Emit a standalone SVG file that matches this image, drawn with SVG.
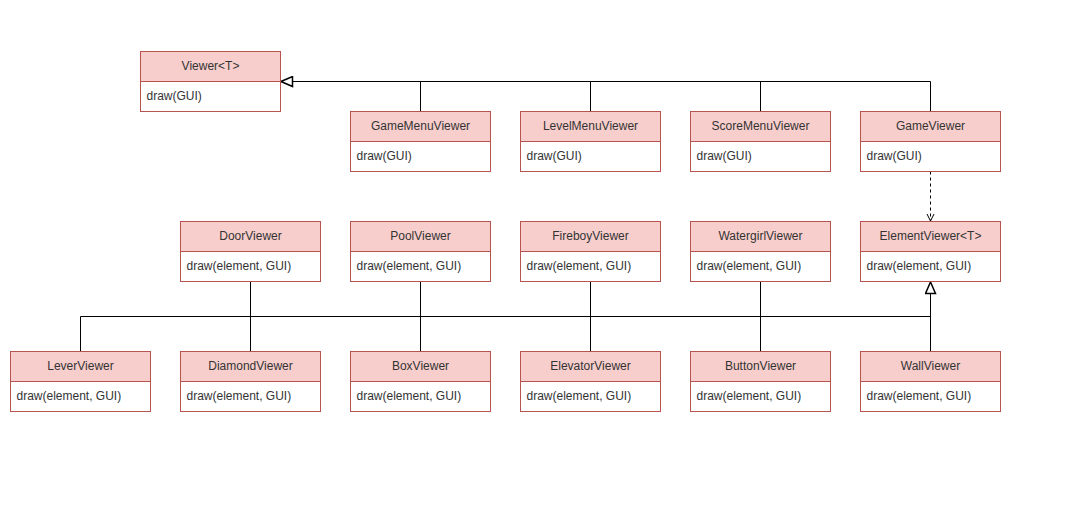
<svg xmlns="http://www.w3.org/2000/svg" width="1071" height="510" viewBox="0 0 1071 510">
<style>
.h{fill:#f8cecc;stroke:#b85450;stroke-width:1}
.b{fill:#ffffff;stroke:#b85450;stroke-width:1}
.t{font-family:"Liberation Sans",Arial,sans-serif;font-size:12px;fill:#333333}
.c{text-anchor:middle}
.l{fill:none;stroke:#000000;stroke-width:1}
.d{fill:none;stroke:#000000;stroke-width:1;stroke-dasharray:3 3}
</style>
<defs>
<marker id="tri" markerWidth="14" markerHeight="12" refX="13" refY="6" orient="auto" markerUnits="userSpaceOnUse">
<path d="M1.5,1 L13,6 L1.5,11 Z" fill="#ffffff" stroke="#000000" stroke-width="1.5"/>
</marker>
<marker id="open" markerWidth="10" markerHeight="10" refX="8" refY="5" orient="auto" markerUnits="userSpaceOnUse">
<path d="M1,1.5 L8,5 L1,8.5" fill="none" stroke="#000000" stroke-width="1"/>
</marker>
</defs>
<rect width="1071" height="510" fill="#ffffff"/>
<g id="connectors">
<path class="l" d="M420.5,111.5 V81.5 M590.5,111.5 V81.5 M760.5,111.5 V81.5 M930.5,111.5 V81.5 H281" marker-end="url(#tri)"/>
<path class="d" d="M930.5,171.5 V221" marker-end="url(#open)"/>
<path class="l" d="M250.5,281.5 V351.5 M420.5,281.5 V351.5 M590.5,281.5 V351.5 M760.5,281.5 V351.5"/>
<path class="l" d="M80.5,351.5 V316.5 H930.5"/>
<path class="l" d="M930.5,351.5 V282" marker-end="url(#tri)"/>
</g>
<g id="Viewer"><rect class="h" x="140.5" y="51.5" width="140" height="30"/><rect class="b" x="140.5" y="81.5" width="140" height="30"/><text class="t c" x="210.5" y="70">Viewer&lt;T&gt;</text><text class="t" x="146.5" y="100">draw(GUI)</text></g>
<g id="GameMenuViewer"><rect class="h" x="350.5" y="111.5" width="140" height="30"/><rect class="b" x="350.5" y="141.5" width="140" height="30"/><text class="t c" x="420.5" y="130">GameMenuViewer</text><text class="t" x="356.5" y="160">draw(GUI)</text></g>
<g id="LevelMenuViewer"><rect class="h" x="520.5" y="111.5" width="140" height="30"/><rect class="b" x="520.5" y="141.5" width="140" height="30"/><text class="t c" x="590.5" y="130">LevelMenuViewer</text><text class="t" x="526.5" y="160">draw(GUI)</text></g>
<g id="ScoreMenuViewer"><rect class="h" x="690.5" y="111.5" width="140" height="30"/><rect class="b" x="690.5" y="141.5" width="140" height="30"/><text class="t c" x="760.5" y="130">ScoreMenuViewer</text><text class="t" x="696.5" y="160">draw(GUI)</text></g>
<g id="GameViewer"><rect class="h" x="860.5" y="111.5" width="140" height="30"/><rect class="b" x="860.5" y="141.5" width="140" height="30"/><text class="t c" x="930.5" y="130">GameViewer</text><text class="t" x="866.5" y="160">draw(GUI)</text></g>
<g id="DoorViewer"><rect class="h" x="180.5" y="221.5" width="140" height="30"/><rect class="b" x="180.5" y="251.5" width="140" height="30"/><text class="t c" x="250.5" y="240">DoorViewer</text><text class="t" x="186.5" y="270">draw(element, GUI)</text></g>
<g id="PoolViewer"><rect class="h" x="350.5" y="221.5" width="140" height="30"/><rect class="b" x="350.5" y="251.5" width="140" height="30"/><text class="t c" x="420.5" y="240">PoolViewer</text><text class="t" x="356.5" y="270">draw(element, GUI)</text></g>
<g id="FireboyViewer"><rect class="h" x="520.5" y="221.5" width="140" height="30"/><rect class="b" x="520.5" y="251.5" width="140" height="30"/><text class="t c" x="590.5" y="240">FireboyViewer</text><text class="t" x="526.5" y="270">draw(element, GUI)</text></g>
<g id="WatergirlViewer"><rect class="h" x="690.5" y="221.5" width="140" height="30"/><rect class="b" x="690.5" y="251.5" width="140" height="30"/><text class="t c" x="760.5" y="240">WatergirlViewer</text><text class="t" x="696.5" y="270">draw(element, GUI)</text></g>
<g id="ElementViewer"><rect class="h" x="860.5" y="221.5" width="140" height="30"/><rect class="b" x="860.5" y="251.5" width="140" height="30"/><text class="t c" x="930.5" y="240">ElementViewer&lt;T&gt;</text><text class="t" x="866.5" y="270">draw(element, GUI)</text></g>
<g id="LeverViewer"><rect class="h" x="10.5" y="351.5" width="140" height="30"/><rect class="b" x="10.5" y="381.5" width="140" height="30"/><text class="t c" x="80.5" y="370">LeverViewer</text><text class="t" x="16.5" y="400">draw(element, GUI)</text></g>
<g id="DiamondViewer"><rect class="h" x="180.5" y="351.5" width="140" height="30"/><rect class="b" x="180.5" y="381.5" width="140" height="30"/><text class="t c" x="250.5" y="370">DiamondViewer</text><text class="t" x="186.5" y="400">draw(element, GUI)</text></g>
<g id="BoxViewer"><rect class="h" x="350.5" y="351.5" width="140" height="30"/><rect class="b" x="350.5" y="381.5" width="140" height="30"/><text class="t c" x="420.5" y="370">BoxViewer</text><text class="t" x="356.5" y="400">draw(element, GUI)</text></g>
<g id="ElevatorViewer"><rect class="h" x="520.5" y="351.5" width="140" height="30"/><rect class="b" x="520.5" y="381.5" width="140" height="30"/><text class="t c" x="590.5" y="370">ElevatorViewer</text><text class="t" x="526.5" y="400">draw(element, GUI)</text></g>
<g id="ButtonViewer"><rect class="h" x="690.5" y="351.5" width="140" height="30"/><rect class="b" x="690.5" y="381.5" width="140" height="30"/><text class="t c" x="760.5" y="370">ButtonViewer</text><text class="t" x="696.5" y="400">draw(element, GUI)</text></g>
<g id="WallViewer"><rect class="h" x="860.5" y="351.5" width="140" height="30"/><rect class="b" x="860.5" y="381.5" width="140" height="30"/><text class="t c" x="930.5" y="370">WallViewer</text><text class="t" x="866.5" y="400">draw(element, GUI)</text></g>
</svg>
